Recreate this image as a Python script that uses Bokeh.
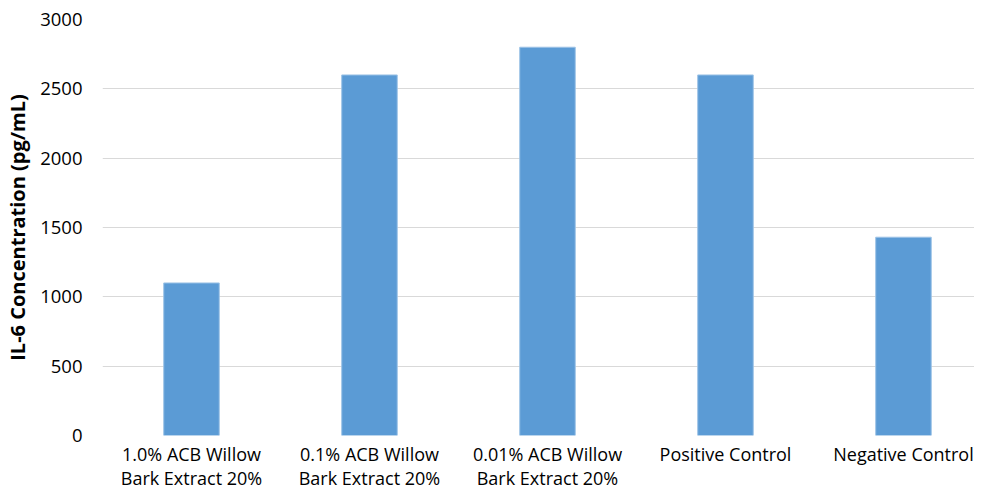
from bokeh.plotting import figure
from bokeh.models import Range1d, FixedTicker
from bokeh.embed import file_html
from bokeh.resources import INLINE

categories = ["1.0% ACB Willow\nBark Extract 20%", "0.1% ACB Willow\nBark Extract 20%",
              "0.01% ACB Willow\nBark Extract 20%", "Positive Control", "Negative Control"]
values = [1100, 2600, 2800, 2600, 1430]
y_ticks = [0, 500, 1000, 1500, 2000, 2500, 3000]

xs = list(range(len(categories)))

p = figure(width=974, height=492, output_backend="svg", toolbar_location=None,
           x_range=Range1d(-0.5, 4.399), y_range=Range1d(0, 3000),
           min_border_left=102, min_border_right=0, min_border_top=19, min_border_bottom=56)
p.outline_line_color = None
p.background_fill_color = "white"
p.border_fill_color = "white"

p.vbar(x=xs, top=values, width=0.312, bottom=0, fill_color="#5b9bd5", line_color="#9dc3e6", line_width=1)

p.xgrid.grid_line_color = None
p.ygrid.grid_line_color = "#d9d9d9"
p.ygrid.grid_line_width = 1
p.ygrid.ticker = FixedTicker(ticks=y_ticks)

font = "Open Sans"
p.xaxis.ticker = FixedTicker(ticks=xs)
p.xaxis.major_label_overrides = {i: c for i, c in zip(xs, categories)}
p.xaxis.axis_line_color = None
p.xaxis.major_tick_line_color = None
p.xaxis.minor_tick_line_color = None
p.xaxis.major_tick_out = 0
p.xaxis.major_tick_in = 0
p.xaxis.minor_tick_out = 0
p.xaxis.major_label_text_font = font
p.xaxis.major_label_text_font_size = "18px"
p.xaxis.major_label_text_color = "#000000"
p.xaxis.major_label_text_line_height = 1.0
p.xaxis.major_label_standoff = 6

p.yaxis.ticker = FixedTicker(ticks=y_ticks)
p.yaxis.axis_line_color = None
p.yaxis.major_tick_line_color = None
p.yaxis.minor_tick_line_color = None
p.yaxis.major_tick_out = 0
p.yaxis.major_tick_in = 0
p.yaxis.minor_tick_out = 0
p.yaxis.major_label_text_font = font
p.yaxis.major_label_text_font_size = "18.5px"
p.yaxis.major_label_text_color = "#000000"
p.yaxis.major_label_standoff = 20
p.yaxis.axis_label = "IL-6 Concentration (pg/mL)"
p.yaxis.axis_label_text_font = font
p.yaxis.axis_label_text_font_size = "20px"
p.yaxis.axis_label_text_font_style = "bold"
p.yaxis.axis_label_text_color = "#000000"
p.yaxis.axis_label_standoff = 6

open("out.html", "w").write(file_html(p, INLINE))
